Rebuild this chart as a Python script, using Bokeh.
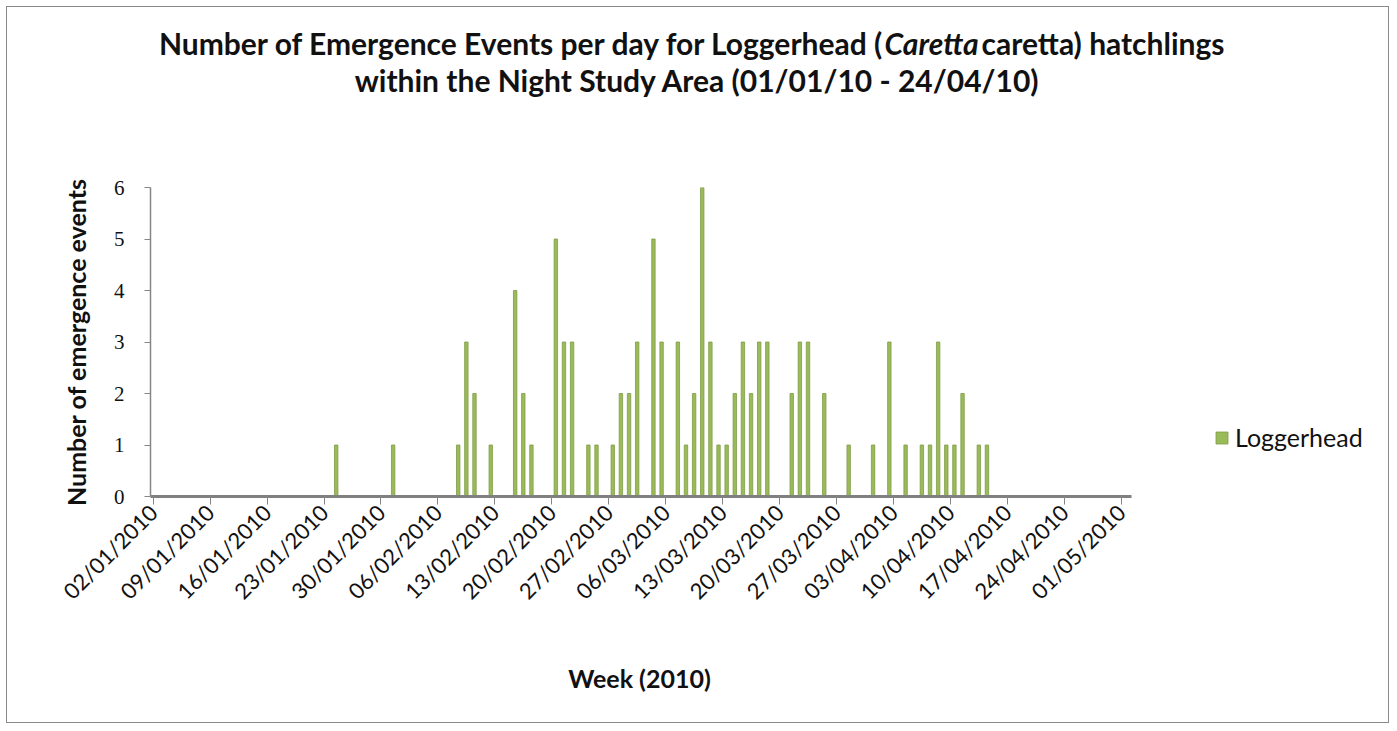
import pandas as pd
from bokeh.plotting import figure
from bokeh.layouts import column
from bokeh.models import (ColumnDataSource, FixedTicker, Legend, LegendItem, Range1d)
from bokeh.core.properties import value
from bokeh.embed import file_html
from bokeh.resources import INLINE

# ---- data ----
event_dates = [
    "24/01/2010", "31/01/2010", "08/02/2010", "09/02/2010", "10/02/2010", "12/02/2010",
    "15/02/2010", "16/02/2010", "17/02/2010", "20/02/2010", "21/02/2010", "22/02/2010",
    "24/02/2010", "25/02/2010", "27/02/2010", "28/02/2010", "01/03/2010", "02/03/2010",
    "04/03/2010", "05/03/2010", "07/03/2010", "08/03/2010", "09/03/2010", "10/03/2010",
    "11/03/2010", "12/03/2010", "13/03/2010", "14/03/2010", "15/03/2010", "16/03/2010",
    "17/03/2010", "18/03/2010", "21/03/2010", "22/03/2010", "23/03/2010", "25/03/2010",
    "28/03/2010", "31/03/2010", "02/04/2010", "04/04/2010", "06/04/2010", "07/04/2010",
    "08/04/2010", "09/04/2010", "10/04/2010", "11/04/2010", "13/04/2010", "14/04/2010",
]
loggerhead_counts = [
    1, 1, 1, 3, 2, 1,
    4, 2, 1, 5, 3, 3,
    1, 1, 1, 2, 2, 3,
    5, 3, 3, 1, 2, 6,
    3, 1, 1, 2, 3, 2,
    3, 3, 2, 3, 3, 2,
    1, 1, 3, 1, 1, 1,
    3, 1, 1, 2, 1, 1,
]
tick_labels = [
    "02/01/2010", "09/01/2010", "16/01/2010", "23/01/2010", "30/01/2010", "06/02/2010",
    "13/02/2010", "20/02/2010", "27/02/2010", "06/03/2010", "13/03/2010", "20/03/2010",
    "27/03/2010", "03/04/2010", "10/04/2010", "17/04/2010", "24/04/2010", "01/05/2010",
]
y_ticks = [0, 1, 2, 3, 4, 5, 6]

series_name = "Loggerhead"
title_a = "Number of Emergence Events per day for Loggerhead ("
title_b = "Caretta"
title_c = "caretta) hatchlings"
title_2 = "within the Night Study Area (01/01/10 - 24/04/10)"
x_title = "Week (2010)"
y_title = "Number of emergence events"

# ---- convert dates to day numbers (days since 01/01/2010) ----
base = pd.Timestamp("2010-01-01")
ev_days = [(pd.to_datetime(d, format="%d/%m/%Y") - base).days for d in event_dates]
tick_days = [(pd.to_datetime(d, format="%d/%m/%Y") - base).days for d in tick_labels]

src = ColumnDataSource(dict(x=[d + 0.5 for d in ev_days], top=loggerhead_counts))

FONT = "Lato"
W = 1381
TH = 120          # title strip height
MH = 513          # main chart height
BH = 82           # x-title strip height
BL = 143          # left border of main chart

# x axis extent (days) and its pixel length; the frame extends further right
X0, X1 = 0.67, 121.27
AXIS_PX = 981
frame_px = W - BL
x_end = X0 + (X1 - X0) * frame_px / AXIS_PX


def strip(h):
    f = figure(width=W, height=h, output_backend="svg", toolbar_location=None,
               x_range=Range1d(0, W), y_range=Range1d(0, h), frame_align=False,
               min_border=0, x_axis_type=None, y_axis_type=None)
    f.outline_line_color = None
    f.xgrid.visible = False
    f.ygrid.visible = False
    return f


# ---------------- title strip ----------------
t = strip(TH)
tstyle = dict(text_font=value(FONT), text_font_size="30px", text_color="#111111",
              text_baseline="alphabetic")
t.text(x=[878], y=[85], text=[title_a], text_align="right",
       text_font_style="bold", **tstyle)
t.text(x=[877], y=[85], text=[title_b], text_align="left",
       text_font_style="bold italic", **tstyle)
t.text(x=[974], y=[85], text=[title_c], text_align="left",
       text_font_style="bold", **tstyle)
t.text(x=[690], y=[48], text=[title_2], text_align="center",
       text_font_style="bold", **tstyle)

# ---------------- main chart ----------------
p = figure(width=W, height=MH, output_backend="svg", toolbar_location=None,
           x_range=Range1d(X0, x_end), y_range=Range1d(0, 6), frame_align=False,
           min_border_left=BL, min_border_right=0,
           min_border_top=60, min_border_bottom=144)
p.outline_line_color = None
p.xgrid.visible = False
p.ygrid.visible = False

r = p.vbar(x="x", top="top", bottom=0, width=0.42, source=src,
           fill_color="#9BBB59", line_color="#7F9C47", line_width=0.8)

# x axis
xa = p.xaxis[0]
xa.bounds = (X0, X1)
xa.ticker = FixedTicker(ticks=tick_days)
xa.major_label_overrides = {d: lab for d, lab in zip(tick_days, tick_labels)}
xa.major_label_orientation = 0.785398
xa.axis_line_color = "#808080"
xa.axis_line_width = 3
xa.major_tick_line_color = "#868686"
xa.major_tick_out = 8
xa.major_tick_in = 0
xa.minor_tick_line_color = None
xa.major_label_text_font = FONT
xa.major_label_text_font_size = "22px"
xa.major_label_text_color = "#111111"
xa.major_label_standoff = 4

# y axis
ya = p.yaxis[0]
ya.ticker = FixedTicker(ticks=y_ticks)
ya.axis_line_color = "#868686"
ya.axis_line_width = 1.5
ya.major_tick_line_color = "#868686"
ya.major_tick_out = 6
ya.major_tick_in = 0
ya.minor_tick_line_color = None
ya.major_label_text_font = "Liberation Serif"
ya.major_label_text_font_size = "21px"
ya.major_label_text_color = "#111111"
ya.major_label_standoff = 20
ya.axis_label = y_title
ya.axis_label_text_font = FONT
ya.axis_label_text_font_style = "bold"
ya.axis_label_text_font_size = "25px"
ya.axis_label_text_color = "#111111"
ya.axis_label_standoff = 20

# legend (inside the widened frame, to the right of the axis)
leg = Legend(items=[LegendItem(label=series_name, renderers=[r])],
             location=(1064, 44), orientation="vertical",
             border_line_color=None, background_fill_alpha=0,
             padding=0, margin=0, spacing=0,
             glyph_width=15, glyph_height=15, label_standoff=6,
             label_text_font=FONT, label_text_font_size="25px",
             label_text_color="#111111")
p.add_layout(leg, "center")

# ---------------- x-axis title strip ----------------
b = strip(BH)
b.text(x=[632], y=[45], text=[x_title], text_align="center", text_baseline="middle",
       text_font=value(FONT), text_font_size="25px", text_font_style="bold",
       text_color="#111111")

layout = column(t, p, b, spacing=0,
                styles={"border": "1px solid #8a8a8a", "margin-left": "6px",
                        "margin-top": "6px"})

open("out.html", "w").write(file_html(layout, INLINE))
